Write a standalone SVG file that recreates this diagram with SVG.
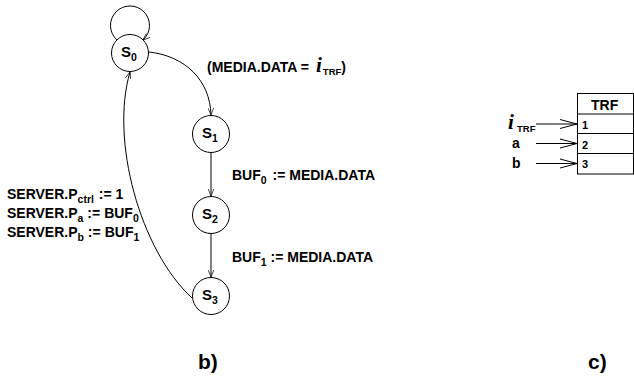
<svg xmlns="http://www.w3.org/2000/svg" width="634" height="377" viewBox="0 0 634 377">
<style>
text{font-family:"Liberation Sans",Arial,sans-serif;font-weight:bold;fill:#000}
.node circle{fill:#fff;stroke:#000;stroke-width:1}
.s{font-size:15px}
.ns{font-size:10.5px}
.sub{font-size:9.5px}
.lbl{font-size:14px}
.ls{font-size:10.5px}
.ii{font-family:"Liberation Serif","Times New Roman",serif;font-style:italic;font-size:21px}
.edge{fill:none;stroke:#000;stroke-width:1}
.tb{fill:none;stroke:#000;stroke-width:1}
.cap{font-size:21px}
</style>
<defs>
<marker id="ah" viewBox="0 0 10 8" refX="10" refY="4" markerWidth="7" markerHeight="6" orient="auto" markerUnits="userSpaceOnUse">
<path d="M0,0 L10,4 L0,8" fill="none" stroke="#000" stroke-width="1"/>
</marker>
</defs>
<g id="connectors">
<path class="edge" d="M117,40 A19.5,19.5 0 1,1 143,40" marker-end="url(#ah)"/>
<path class="edge" d="M149,52 C185,56 210,80 211,115" marker-end="url(#ah)"/>
<path class="edge" d="M211,153 L211,196" marker-end="url(#ah)"/>
<path class="edge" d="M211,234 L211,277" marker-end="url(#ah)"/>
<path class="edge" d="M192,298 C140,250 110,140 130,72" marker-end="url(#ah)"/>
</g>
<g id="S0" class="node"><circle cx="130" cy="53" r="18.5"/><text class="s" x="121" y="57">S<tspan class="ns" dy="4">0</tspan></text></g>
<g id="S1" class="node"><circle cx="211" cy="134" r="18.5"/><text class="s" x="202" y="138">S<tspan class="ns" dy="4">1</tspan></text></g>
<g id="S2" class="node"><circle cx="211" cy="215" r="18.5"/><text class="s" x="202" y="219">S<tspan class="ns" dy="4">2</tspan></text></g>
<g id="S3" class="node"><circle cx="211" cy="296" r="18.5"/><text class="s" x="202" y="300">S<tspan class="ns" dy="4">3</tspan></text></g>
<g id="labels">
<text class="lbl" x="207" y="72">(MEDIA.DATA =<tspan class="ii" dx="7">i</tspan><tspan class="sub" dx="1" dy="3">TRF</tspan><tspan dy="-3">)</tspan></text>
<text class="lbl" x="232" y="180">BUF<tspan class="ls" dy="4">0</tspan><tspan dx="2" dy="-4"> := MEDIA.DATA</tspan></text>
<text class="lbl" x="232" y="262">BUF<tspan class="ls" dy="4">1</tspan><tspan dy="-4"> := MEDIA.DATA</tspan></text>
<text class="lbl" x="7" y="199">SERVER.P<tspan class="ls" dy="4">ctrl</tspan><tspan dx="1" dy="-4"> := 1</tspan></text>
<text class="lbl" x="7" y="218">SERVER.P<tspan class="ls" dy="4">a</tspan><tspan dy="-4"> :=</tspan><tspan dx="4">BUF</tspan><tspan class="ls" dy="4">0</tspan></text>
<text class="lbl" x="7" y="237">SERVER.P<tspan class="ls" dy="4">b</tspan><tspan dy="-4"> :=</tspan><tspan dx="4">BUF</tspan><tspan class="ls" dy="4">1</tspan></text>
<text class="cap" x="198" y="369">b)</text>
<text class="cap" x="588" y="369">c)</text>
</g>
<g id="TRF">
<rect class="tb" x="577.5" y="93.5" width="56" height="80.5"/>
<line class="tb" x1="577" y1="114" x2="634" y2="114" stroke-width="1.5"/>
<line class="tb" x1="577" y1="133.5" x2="634" y2="133.5" stroke-width="2"/>
<line class="tb" x1="577" y1="153.5" x2="634" y2="153.5"/>
<text x="591" y="110" font-size="14">TRF</text>
<text x="582" y="129" font-size="11">1</text>
<text x="582" y="149" font-size="11">2</text>
<text x="582" y="168" font-size="11">3</text>
</g>
<g id="inputs">
<text x="508" y="129" class="ii">i</text><text x="517" y="132" class="sub">TRF</text>
<text x="512" y="148" font-size="14">a</text>
<text x="512" y="168" font-size="14">b</text>
<path class="edge" d="M536,124 H577 M560,119.5 L577,124 L560,128.5"/>
<path class="edge" d="M536,143.5 H577 M560,139 L577,143.5 L560,148"/>
<path class="edge" d="M536,163.5 H577 M560,159 L577,163.5 L560,168"/>
</g>
</svg>
